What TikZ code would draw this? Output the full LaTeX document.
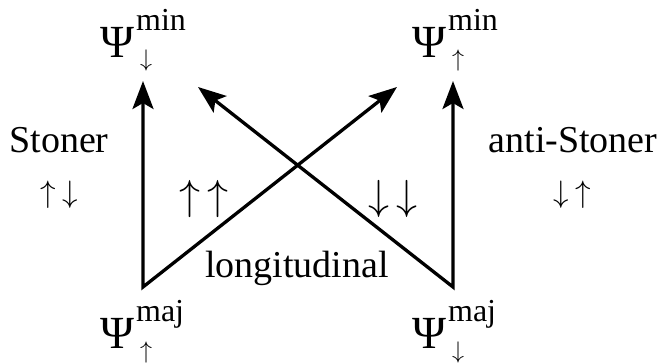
\documentclass[tikz,border=0pt]{standalone}
\usepackage{fontspec}
\setmainfont{Liberation Serif}
\usetikzlibrary{arrows.meta}

\newcommand{\spins}[2]{\scalebox{#1}{$#2$}}
\newcommand{\psiterm}[3]{{\fontsize{46}{46}\selectfont Ψ}\kern2pt\rlap{\raisebox{27pt}{\fontsize{32}{32}\selectfont #1}}\kern4pt\raisebox{#3}{\spins{2.4}{#2}}}

\begin{document}
\begin{tikzpicture}[
  x=1pt,y=-1pt,
  >={Stealth[length=28pt,width=21pt,inset=6pt]},
  state/.style={anchor=base west,inner sep=0pt},
  lbl/.style={anchor=base,inner sep=0pt,font=\fontsize{38}{38}\selectfont},
  spin/.style={anchor=base,inner sep=0pt},
  trans/.style={<->,line width=3.3pt,line join=miter}
]
  \useasboundingbox (0,0) rectangle (659,362);

  % states
  \node[state] (minDn) at (100,57) {\psiterm{min}{\downarrow}{-9pt}};
  \node[state] (minUp) at (412,57) {\psiterm{min}{\uparrow}{-9pt}};
  \node[state] (majUp) at (100,348) {\psiterm{maj}{\uparrow}{-10pt}};
  \node[state] (majDn) at (412,348) {\psiterm{maj}{\downarrow}{-10pt}};

  % arrow ends
  \coordinate (cornerL) at (143,287);
  \coordinate (cornerR) at (453,287);
  \coordinate (tipMinDn) at (143,81);
  \coordinate (tipMinUp) at (453,81);
  \coordinate (tipCrossUp) at (397,87);
  \coordinate (tipCrossDn) at (198,87);

  \draw[trans] (tipMinDn) -- (cornerL) -- (tipCrossUp);
  \draw[trans] (tipMinUp) -- (cornerR) -- (tipCrossDn);

  % labels
  \node[lbl] (stoner) at (59,152) {Stoner};
  \node[spin] (stonerSpin) at (59,202) {\spins{3.1}{\uparrow\mkern4mu\downarrow}};
  \node[lbl] (antiStoner) at (573,152) {anti-Stoner};
  \node[spin] (antiSpin) at (572,202) {\spins{3.1}{\downarrow\mkern4mu\uparrow}};
  \node[spin] (upup) at (204,209) {\spins{4.2}{\uparrow\mkern3mu\uparrow}};
  \node[spin] (dndn) at (393,209) {\spins{4.2}{\downarrow\mkern3mu\downarrow}};
  \node[lbl] (longit) at (297,277) {longitudinal};
\end{tikzpicture}
\end{document}
